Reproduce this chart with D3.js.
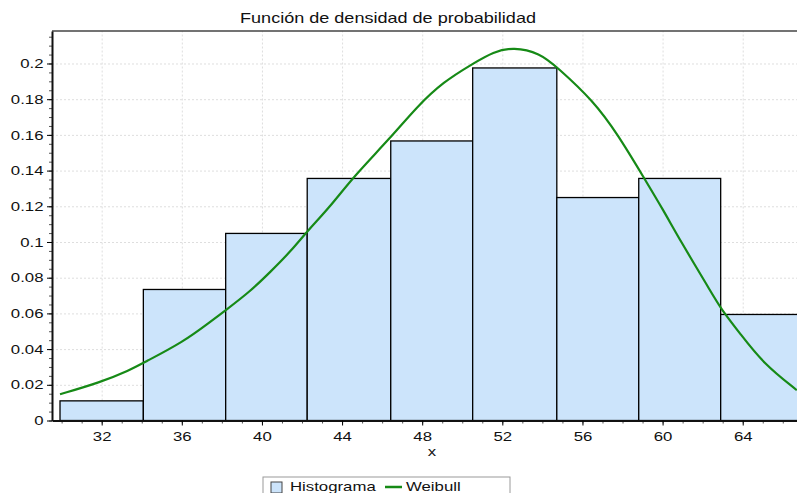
<!DOCTYPE html>
<html>
<head>
<meta charset="utf-8">
<script src="https://d3js.org/d3.v7.min.js"></script>
<style>
  body { margin: 0; background: #fff; overflow: hidden; }
  text { font-family: "Liberation Sans", Arial, sans-serif; fill: #111; }
</style>
</head>
<body>
<svg width="797" height="493"></svg>
<script>
  // histogram bins (edges) and heights
  const binEdges = [29.92, 34.08, 38.19, 42.26, 46.43, 50.52, 54.72, 58.81, 62.90, 67.0];
  const density = [0.0110, 0.0734, 0.1048, 0.1356, 0.1566, 0.1975, 0.1249, 0.1356, 0.0594];

  // Weibull curve
  const curveX = [29.92, 31.92, 33.41, 34.08, 36.07, 37.41, 38.19, 39.40, 40.40, 41.49,
                  42.23, 43.40, 44.56, 46.39, 47.73, 49.05, 50.55, 51.55, 52.55, 53.88,
                  54.72, 56.54, 57.79, 59.04, 60.04, 60.87, 62.37, 62.92, 63.87, 65.03, 66.70];
  const curveY = [0.0147, 0.0213, 0.0282, 0.0323, 0.0440, 0.0552, 0.0618, 0.0722, 0.0830, 0.0954,
                  0.1057, 0.1197, 0.1365, 0.1580, 0.1757, 0.1897, 0.2000, 0.2065, 0.2092, 0.2058,
                  0.1981, 0.1792, 0.1598, 0.1365, 0.1178, 0.1010, 0.0730, 0.0624, 0.0487, 0.0319, 0.0170];

  const xTicks = [32, 36, 40, 44, 48, 52, 56, 60, 64];
  const yTicks = [0, 0.02, 0.04, 0.06, 0.08, 0.1, 0.12, 0.14, 0.16, 0.18, 0.2];

  const titleText = 'Función de densidad de probabilidad';
  const xLabelText = 'x';
  const legendLabels = ['Histograma', 'Weibull'];

  (function (d3) {
    'use strict';

    const svg = d3.select('svg');
    const stretch = 1.29; // the picture's text is drawn wide
    const pLeft = 52, pRight = 797, pTop = 31, pBottom = 420.5;
    const barFill = '#cce4fb';
    const green = '#168a16';

    const x = d3.scaleLinear().domain([29.52, 66.71]).range([pLeft, pRight]);
    const y = d3.scaleLinear().domain([0, 0.2182]).range([pBottom, pTop]);

    // grid
    const gx = svg.append('g').attr('transform', `translate(0,${pBottom})`)
      .call(d3.axisBottom(x).tickValues(xTicks).tickSize(-(pBottom - pTop)).tickFormat(''));
    const gy = svg.append('g').attr('transform', `translate(${pLeft},0)`)
      .call(d3.axisLeft(y).tickValues(yTicks).tickSize(-(pRight - pLeft)).tickFormat(''));
    [gx, gy].forEach(g => {
      g.select('.domain').remove();
      g.selectAll('.tick line').attr('stroke', '#dedede').attr('stroke-dasharray', '2,2');
    });

    // bars
    svg.append('g').selectAll('rect').data(density).join('rect')
      .attr('x', (d, i) => x(binEdges[i]))
      .attr('width', (d, i) => x(binEdges[i + 1]) - x(binEdges[i]))
      .attr('y', d => y(d))
      .attr('height', d => y(0) - y(d))
      .attr('fill', barFill)
      .attr('stroke', '#000')
      .attr('stroke-width', 1.3);

    // curve
    const pts = curveX.map((v, i) => [v, curveY[i]]);
    svg.append('path').datum(pts)
      .attr('fill', 'none')
      .attr('stroke', green)
      .attr('stroke-width', 2.2)
      .attr('d', d3.line().x(d => x(d[0])).y(d => y(d[1])).curve(d3.curveBasis));

    // top border
    svg.append('line').attr('x1', pLeft).attr('x2', pRight).attr('y1', pTop).attr('y2', pTop)
      .attr('stroke', '#444').attr('stroke-width', 1.5);

    // minor ticks
    svg.append('g').attr('transform', `translate(0,${pBottom})`)
      .call(d3.axisBottom(x).tickValues(d3.range(30, 67)).tickSize(3).tickFormat(''))
      .call(g => g.select('.domain').remove())
      .selectAll('.tick line').attr('stroke', '#555');
    svg.append('g').attr('transform', `translate(${pLeft},0)`)
      .call(d3.axisLeft(y).tickValues(d3.range(0, 0.2175, 0.005)).tickSize(3).tickFormat(''))
      .call(g => g.select('.domain').remove())
      .selectAll('.tick line').attr('stroke', '#555');

    // main axes
    const xAxisG = svg.append('g').attr('transform', `translate(0,${pBottom})`)
      .call(d3.axisBottom(x).tickValues(xTicks).tickSize(5).tickPadding(6).tickSizeOuter(0));
    xAxisG.select('.domain').attr('stroke', '#111').attr('stroke-width', 2);
    xAxisG.selectAll('text').attr('font-size', 13).attr('font-family', null)
      .attr('transform', `scale(${stretch},1)`);

    const yAxisG = svg.append('g').attr('transform', `translate(${pLeft},0)`)
      .call(d3.axisLeft(y).tickValues(yTicks).tickSize(5).tickSizeOuter(0).tickFormat(d3.format('~g')));
    yAxisG.select('.domain').attr('stroke', '#111').attr('stroke-width', 2);
    yAxisG.selectAll('text').attr('font-size', 13).attr('font-family', null)
      .attr('x', -8.5 / stretch)
      .attr('transform', `scale(${stretch},1)`);

    const wideText = (px, py, txt, size, anchor) =>
      svg.append('text')
        .attr('transform', `translate(${px},${py}) scale(${stretch},1)`)
        .attr('text-anchor', anchor)
        .attr('font-size', size)
        .text(txt);

    wideText(388, 23, titleText, 14, 'middle');
    wideText(432, 455.5, xLabelText, 13, 'middle');

    // legend
    svg.append('rect').attr('x', 263).attr('y', 477).attr('width', 247).attr('height', 30)
      .attr('fill', '#fff').attr('stroke', '#9a9a9a');
    svg.append('rect').attr('x', 271).attr('y', 482).attr('width', 11).attr('height', 11)
      .attr('fill', barFill).attr('stroke', '#444');
    wideText(290, 490.5, legendLabels[0], 13, 'start');
    svg.append('line').attr('x1', 385).attr('x2', 402).attr('y1', 487).attr('y2', 487)
      .attr('stroke', green).attr('stroke-width', 2.5);
    wideText(406, 490.5, legendLabels[1], 13, 'start');
  }(d3));
</script>
</body>
</html>
